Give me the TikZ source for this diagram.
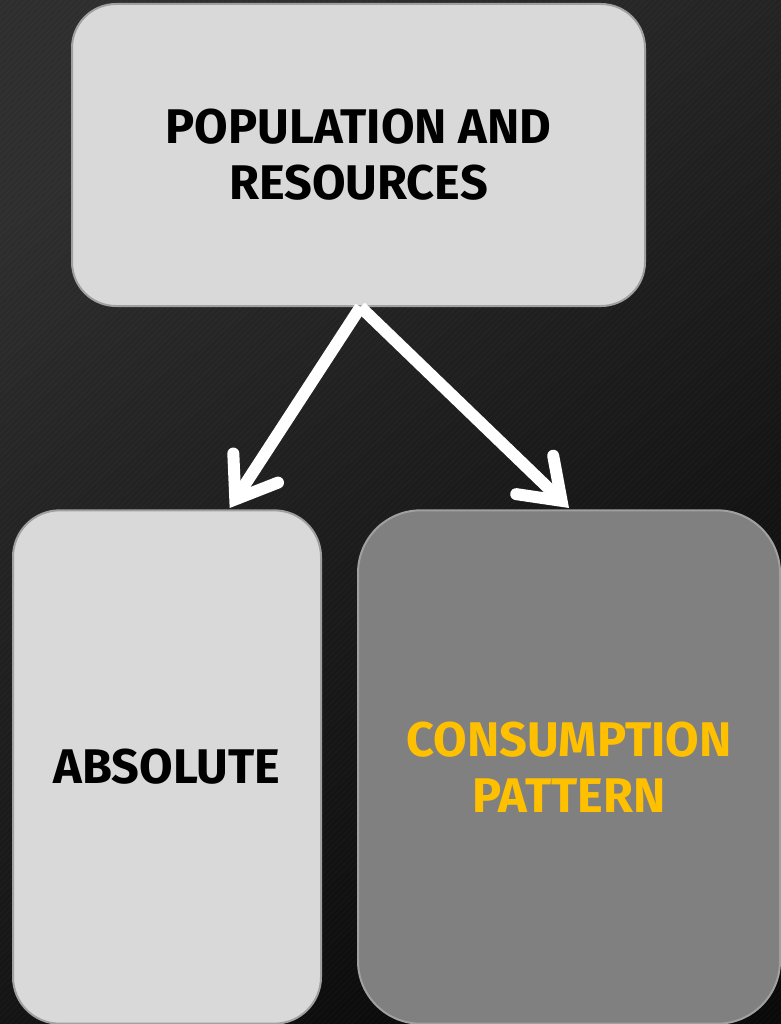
\documentclass[tikz,border=0pt]{standalone}
\usepackage{fontspec}
\setmainfont{Fira Sans}
\usetikzlibrary{arrows.meta}
\definecolor{bgA}{HTML}{2E2E2E}
\definecolor{bgB}{HTML}{0A0A0A}
\definecolor{boxlight}{HTML}{D9D9D9}
\definecolor{boxdark}{HTML}{808080}
\definecolor{boxline}{HTML}{A0A0A0}
\definecolor{gold}{HTML}{FFC000}
\tikzset{
  box/.style={draw=boxline, line width=1.5pt, align=center, inner sep=0pt,
    font=\fontsize{36.5}{42}\selectfont\bfseries},
  conn/.style={draw=white, line width=9pt,
    -{Straight Barb[length=28pt, width=40pt, line cap=round]}}
}
\begin{document}
\begin{tikzpicture}[x=0.75pt,y=-0.75pt]
\useasboundingbox (0,0) rectangle (781,1024);
\shade[shading=axis, top color=bgA, bottom color=bgB, shading angle=35] (0,0) rectangle (781,1024);
\begin{scope}
\clip (0,0) rectangle (781,1024);
\foreach \i in {-1100,-1094,...,800} {
  \draw[white, opacity=0.025, line width=0.8pt] (\i,1024) -- (\i+1024,0);
}
\end{scope}
\node[box, fill=boxlight, minimum width=429.75pt, minimum height=226.5pt, rounded corners=33pt] (top) at (358.5,155) {POPULATION AND\\RESOURCES};
\node[box, fill=boxlight, minimum width=231pt, minimum height=385pt, rounded corners=35pt] (abs) at (167,767) {ABSOLUTE};
\node[box, fill=boxdark, text=gold, minimum width=316.5pt, minimum height=385pt, rounded corners=47pt] (cons) at (569,767) {CONSUMPTION\\PATTERN};
\draw[conn] ([xshift=1.5pt]top.south) -- ([xshift=47pt,yshift=1pt]abs.north);
\draw[conn] ([xshift=1.5pt]top.south) -- ([yshift=1pt]cons.north);
\end{tikzpicture}
\end{document}
